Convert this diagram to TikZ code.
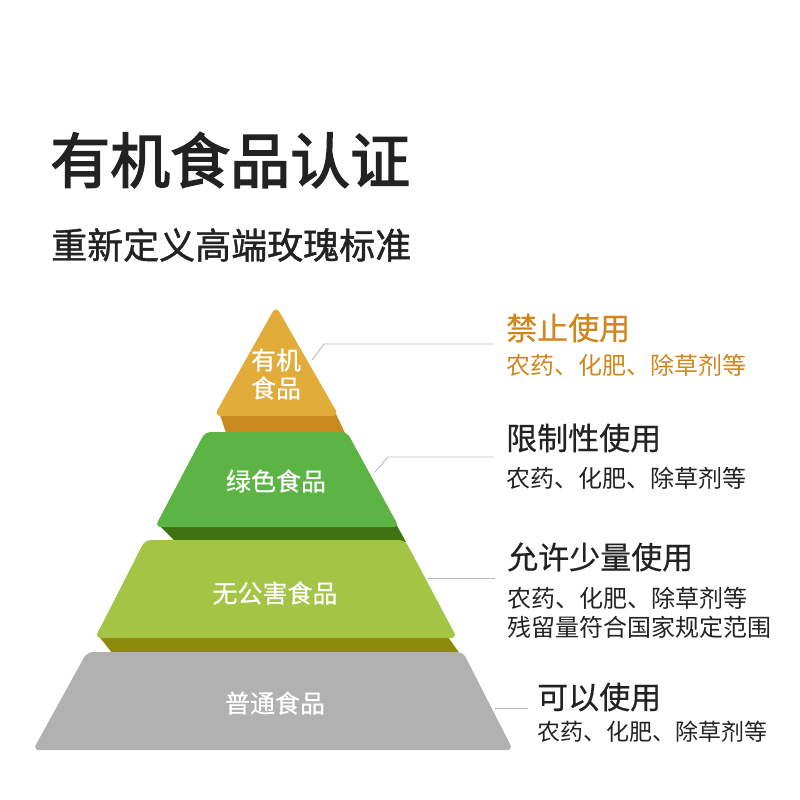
\documentclass[tikz,border=0pt]{standalone}
\usepackage{fontspec}
\setmainfont{Noto Sans CJK SC}
\newfontfamily\titlefont[FakeBold=2.4]{Noto Sans CJK SC}
\newfontfamily\subfont[FakeBold=1.2]{Noto Sans CJK SC}
\newfontfamily\headfont[FakeBold=0.5]{Noto Sans CJK SC}
\usetikzlibrary{positioning}
\definecolor{ink}{HTML}{222222}
\definecolor{orgtop}{HTML}{E2AC3B}
\definecolor{orgdark}{HTML}{C8891F}
\definecolor{grntop}{HTML}{5BB443}
\definecolor{grndark}{HTML}{3F7210}
\definecolor{limetop}{HTML}{A3C445}
\definecolor{olive}{HTML}{8E8B0B}
\definecolor{stone}{HTML}{B1B1B1}
\definecolor{orgtext}{HTML}{D0861A}
\definecolor{leader}{HTML}{BBBBBB}

\begin{document}
\begin{tikzpicture}[x=1pt, y=-1pt,
  layer/.style={rounded corners=6pt},
  inlabel/.style={text=white, inner sep=0pt, font=\headfont\fontsize{25}{25}\selectfont},
  headtext/.style={anchor=west, inner sep=0pt, text=ink, font=\headfont\fontsize{31}{31}\selectfont},
  bodytext/.style={anchor=west, inner sep=0pt, text=ink, font=\fontsize{24}{24}\selectfont},
  leadline/.style={draw=leader, line width=0.9pt}]
\path (0,0) rectangle (800,800);
% title
\node[anchor=west, inner sep=0pt, text=ink, font=\titlefont\fontsize{60}{60}\selectfont] (title) at (50,160) {有机食品认证};
\node[anchor=west, inner sep=0pt, text=ink, font=\subfont\fontsize{36}{36}\selectfont] (subtitle) at (51,245) {重新定义高端玫瑰标准};
% pyramid layers
\fill[orgdark] (219,412) -- (335,412) -- (345,433) -- (226,433) -- cycle;
\fill[orgtop, rounded corners=7pt] (276,306) -- (339,416) -- (214,416) -- cycle;
\fill[grndark] (158,524) -- (396,524) -- (406,542) -- (176,542) -- cycle;
\fill[grntop, layer] (205,432) -- (347,432) -- (399,527) -- (155,527) -- cycle;
\fill[olive] (97,634) -- (446,634) -- (460,654) -- (113,654) -- cycle;
\fill[limetop, layer] (145,540) -- (405,540) -- (457,638) -- (95,638) -- cycle;
\fill[stone, layer] (87,652) -- (463,652) -- (513,750) -- (33,750) -- cycle;
% layer labels
\node[inlabel] (organic1) at (276,360) {有机};
\node[inlabel] (organic2) at (276,388) {食品};
\node[inlabel] (green) at (276,481) {绿色食品};
\node[inlabel] (safe) at (275,593) {无公害食品};
\node[inlabel] (plain) at (275,703) {普通食品};
% right texts
\node[headtext, text=orgtext] (ban) at (506,328) {禁止使用};
\node[bodytext, text=orgtext] (ban1) at (506,365) {农药、化肥、除草剂等};
\node[headtext] (limit) at (506,438) {限制性使用};
\node[bodytext] (limit1) at (506,478) {农药、化肥、除草剂等};
\node[headtext] (few) at (507,557) {允许少量使用};
\node[bodytext] (few1) at (507,598) {农药、化肥、除草剂等};
\node[bodytext] (few2) at (507,627) {残留量符合国家规定范围};
\node[headtext] (allow) at (537,697) {可以使用};
\node[bodytext, font=\fontsize{23}{23}\selectfont] (allow1) at (537,732) {农药、化肥、除草剂等};
% leaders
\coordinate (o1) at (312,360);
\coordinate (o2) at (494,344);
\coordinate (g1) at (375,472);
\coordinate (g2) at (494,457);
\coordinate (s1) at (427,578);
\coordinate (s2) at (495,578);
\coordinate (p1) at (495,708);
\coordinate (p2) at (528,708);
\draw[leadline] (o1) -- (324,344) -- (o2);
\draw[leadline] (g1) -- (388,457) -- (g2);
\draw[leadline] (s1) -- (s2);
\draw[leadline] (p1) -- (p2);
\end{tikzpicture}
\end{document}
